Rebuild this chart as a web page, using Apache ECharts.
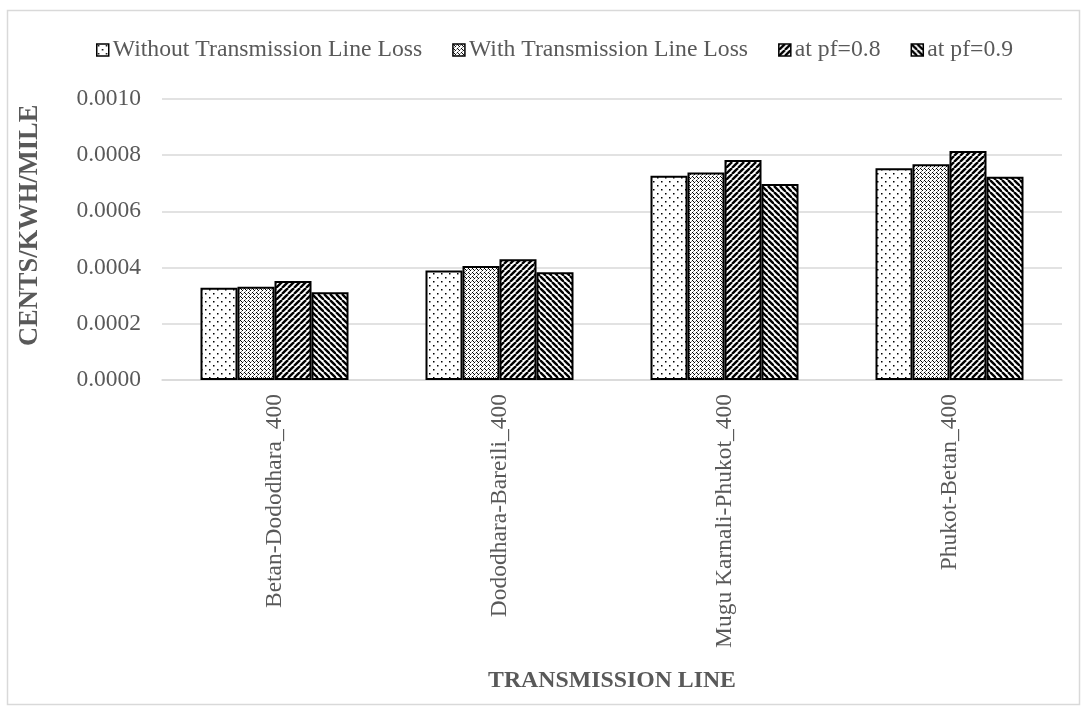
<!DOCTYPE html>
<html>
<head>
<meta charset="utf-8">
<script src="https://cdn.jsdelivr.net/npm/echarts@6/dist/echarts.min.js"></script>
<style>
html,body{margin:0;padding:0;background:#fff;}
#main{width:1087px;height:713px;}
</style>
</head>
<body>
<div id="main"></div>
<script>
// ---- data ----
var categories = ['Betan-Dododhara_400', 'Dododhara-Bareili_400', 'Mugu Karnali-Phukot_400', 'Phukot-Betan_400'];
var seriesNames = ['Without Transmission Line Loss', 'With Transmission Line Loss', 'at pf=0.8', 'at pf=0.9'];
var withoutLoss = [0.000328, 0.000389, 0.000726, 0.000753];
var withLoss = [0.000332, 0.000405, 0.000738, 0.000767];
var pf08 = [0.000352, 0.000429, 0.000782, 0.000814];
var pf09 = [0.000312, 0.000383, 0.000697, 0.000723];
var yTicks = [0, 0.0002, 0.0004, 0.0006, 0.0008, 0.0010];

// ---- patterns ----
function tile(size, draw) {
  var c = document.createElement('canvas');
  c.width = size; c.height = size;
  var g = c.getContext('2d');
  g.fillStyle = '#fff';
  g.fillRect(0, 0, size, size);
  g.fillStyle = '#000';
  g.strokeStyle = '#000';
  draw(g, size);
  return c;
}
var dotTile = tile(8, function (g) {
  g.fillRect(1, 1, 1.5, 1.5);
  g.fillRect(5, 5, 1.5, 1.5);
});
var gridTile = tile(4, function (g) {
  g.fillRect(0, 0, 1, 1);
  g.fillRect(2, 2, 1, 1);
  g.fillRect(1, 1, 1, 1);
  g.fillStyle = 'rgba(0,0,0,0.45)';
  g.fillRect(3, 1, 1, 1);
  g.fillRect(1, 3, 1, 1);
});
var upTile = tile(6, function (g, s) {
  g.lineWidth = 2.4;
  for (var x = -s; x <= s; x += s) {
    g.beginPath(); g.moveTo(x, s); g.lineTo(x + s, 0); g.stroke();
  }
});
var downTile = tile(6, function (g, s) {
  g.lineWidth = 2.4;
  for (var x = -s; x <= s; x += s) {
    g.beginPath(); g.moveTo(x, 0); g.lineTo(x + s, s); g.stroke();
  }
});
var patterns = [dotTile, gridTile, upTile, downTile];
var values = [withoutLoss, withLoss, pf08, pf09];

var FONT = '"Liberation Serif", "Times New Roman", serif';
var TXT = '#595959';

var chart = echarts.init(document.getElementById('main'), null, {renderer: 'canvas'});
var series = seriesNames.map(function (n, i) {
  return {
    name: n,
    type: 'bar',
    data: values[i],
    barWidth: 37,
    barGap: '0%',
    itemStyle: {
      color: {image: patterns[i], repeat: 'repeat'},
      borderColor: '#000',
      borderWidth: 2
    }
  };
});

chart.setOption({
  animation: false,
  backgroundColor: '#fff',
  textStyle: {fontFamily: FONT},
  graphic: [{
    type: 'rect',
    shape: {x: 7.5, y: 10.5, width: 1072, height: 694},
    style: {fill: 'none', stroke: '#d9d9d9', lineWidth: 1.5},
    silent: true,
    z: -10
  }],
  legend: {
    data: seriesNames,
    left: 91,
    top: 33,
    itemWidth: 12,
    itemHeight: 12,
    itemGap: 30,
    icon: 'rect',
    itemStyle: {borderColor: '#000', borderWidth: 1.5},
    textStyle: {fontFamily: FONT, fontSize: 23.7, color: TXT, padding: [0, 0, 0, -1]}
  },
  grid: {left: 162, right: 25, top: 98.75, bottom: 333, containLabel: false},
  xAxis: {
    type: 'category',
    data: categories,
    name: 'TRANSMISSION LINE',
    nameLocation: 'middle',
    nameGap: 289,
    nameTextStyle: {fontFamily: FONT, fontSize: 23.8, fontWeight: 'bold', color: TXT},
    axisLine: {show: true, lineStyle: {color: '#d9d9d9', width: 1.5}},
    axisTick: {show: false},
    axisLabel: {rotate: 90, margin: 14, fontFamily: FONT, fontSize: 23.5, color: TXT, interval: 0}
  },
  yAxis: {
    type: 'value',
    min: 0,
    max: 0.001,
    interval: 0.0002,
    name: 'CENTS/KWH/MILE',
    nameLocation: 'middle',
    nameGap: 118,
    nameTextStyle: {fontFamily: FONT, fontSize: 26.5, fontWeight: 'bold', color: TXT, padding: [0, 0, 0, 28]},
    axisLine: {show: false},
    axisTick: {show: false},
    splitLine: {lineStyle: {color: '#d9d9d9', width: 1.5}},
    axisLabel: {
      margin: 21,
      fontFamily: FONT, fontSize: 23.5, color: TXT,
      formatter: function (v) { return v.toFixed(4); }
    }
  },
  series: series
});
</script>
</body>
</html>
